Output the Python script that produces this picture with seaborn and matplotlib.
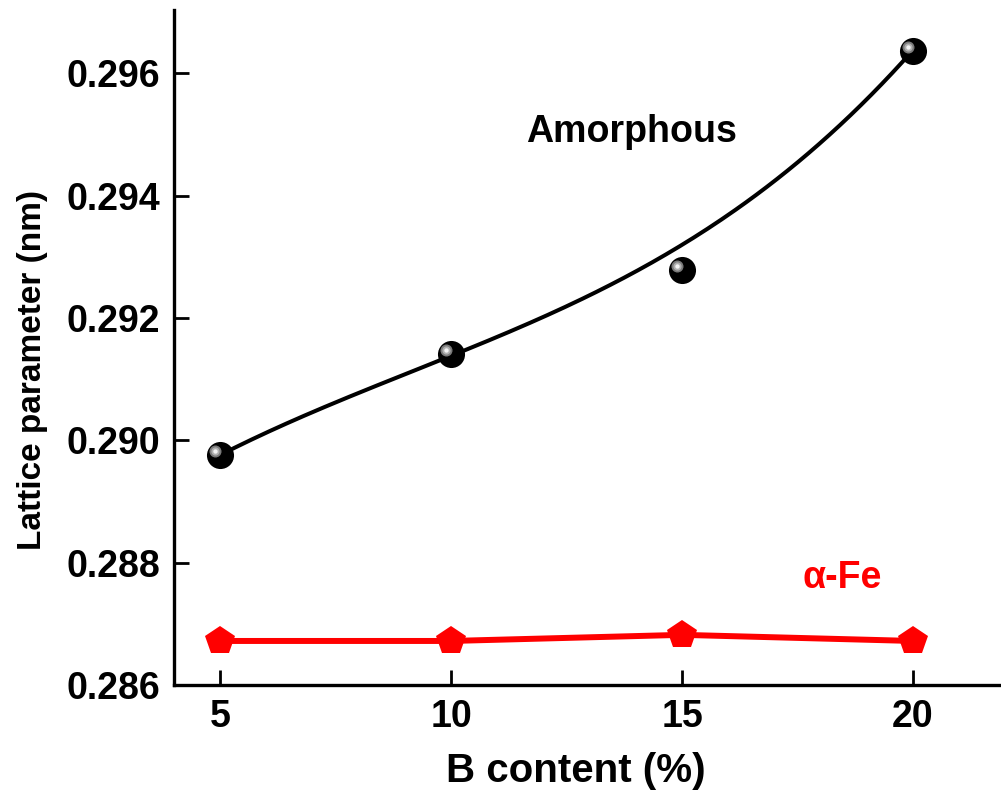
import numpy as np
import pandas as pd
import matplotlib
matplotlib.use("Agg")
import matplotlib.pyplot as plt
import matplotlib.transforms as mtransforms
import seaborn as sns

b_content = [5, 10, 15, 20]
amorphous = [0.28976, 0.29141, 0.29278, 0.29636]
alpha_fe = [0.28672, 0.28672, 0.28682, 0.28672]
# smooth guide curve for amorphous
fit_x = [5, 7.6, 10, 15, 17.55, 20]
fit_y = [0.28976, 0.29064, 0.29141, 0.29314, 0.29463, 0.29636]
x_ticks = [5, 10, 15, 20]
y_ticks = [0.286, 0.288, 0.290, 0.292, 0.294, 0.296]

sns.set_theme(style="ticks")
plt.rcParams['font.family'] = ['Liberation Sans', 'DejaVu Sans']
plt.rcParams['font.weight'] = 'bold'
plt.rcParams['text.color'] = 'black'
plt.rcParams['axes.labelcolor'] = 'black'
plt.rcParams['xtick.color'] = 'black'
plt.rcParams['ytick.color'] = 'black'

fig = plt.figure(figsize=(10.01, 7.91), dpi=100)
ax = fig.add_axes([0.1738, 0.134, 0.825, 0.853])

coef = np.polyfit(fit_x, fit_y, 3)
xs = np.linspace(fit_x[0], fit_x[-1], 200)
fit = pd.DataFrame({"x": xs, "y": np.polyval(coef, xs)})
sns.lineplot(data=fit, x="x", y="y", ax=ax, color="black", lw=2.9, zorder=2)

df_a = pd.DataFrame({"x": b_content, "y": amorphous})
sns.scatterplot(data=df_a, x="x", y="y", ax=ax, s=380, color="black",
                edgecolor="black", linewidth=0, zorder=3)
off = ax.transData + mtransforms.ScaledTranslation(-3.4/72, 2.9/72, fig.dpi_scale_trans)
for sz, col, z in [(75, "#7a7a7a", 4), (35, "#b0b0b0", 5), (10, "#f4f4f4", 6)]:
    h = ax.scatter(b_content, amorphous, s=sz, color=col, zorder=z, linewidths=0)
    h.set_offset_transform(off)

df_f = pd.DataFrame({"x": b_content, "y": alpha_fe})
sns.lineplot(data=df_f, x="x", y="y", ax=ax, color="red", lw=4.3,
             marker="p", markersize=22, markeredgewidth=0, zorder=3)

ax.set_xlim(4.0, 21.88)
ax.set_ylim(0.286, 0.29703)
ax.set_xticks(x_ticks)
ax.set_yticks(y_ticks)
ax.set_xticklabels([str(v) for v in x_ticks])
ax.set_yticklabels([f"{v:.3f}" for v in y_ticks])
ax.tick_params(direction="in", length=11, width=2, labelsize=27, pad=10)
for lab in ax.get_xticklabels() + ax.get_yticklabels():
    lab.set_fontweight("bold")
for s in ["top", "right"]:
    ax.spines[s].set_visible(False)
for s in ["left", "bottom"]:
    ax.spines[s].set_linewidth(2.4)
    ax.spines[s].set_color("black")

ax.set_xlabel("B content (%)", fontsize=29, fontweight="bold")
ax.set_ylabel("Lattice parameter (nm)", fontsize=24, fontweight="bold")
ax.xaxis.set_label_coords(0.487, -0.099)
ax.yaxis.set_label_coords(-0.153, 0.467)

ax.text(13.9, 0.29504, "Amorphous", fontsize=27, fontweight="bold",
        ha="center", va="center", color="black")
ax.text(18.46, 0.28775, "α-Fe", fontsize=27, fontweight="bold",
        ha="center", va="center", color="red")

fig.savefig("out.png", dpi=100, facecolor="white")
